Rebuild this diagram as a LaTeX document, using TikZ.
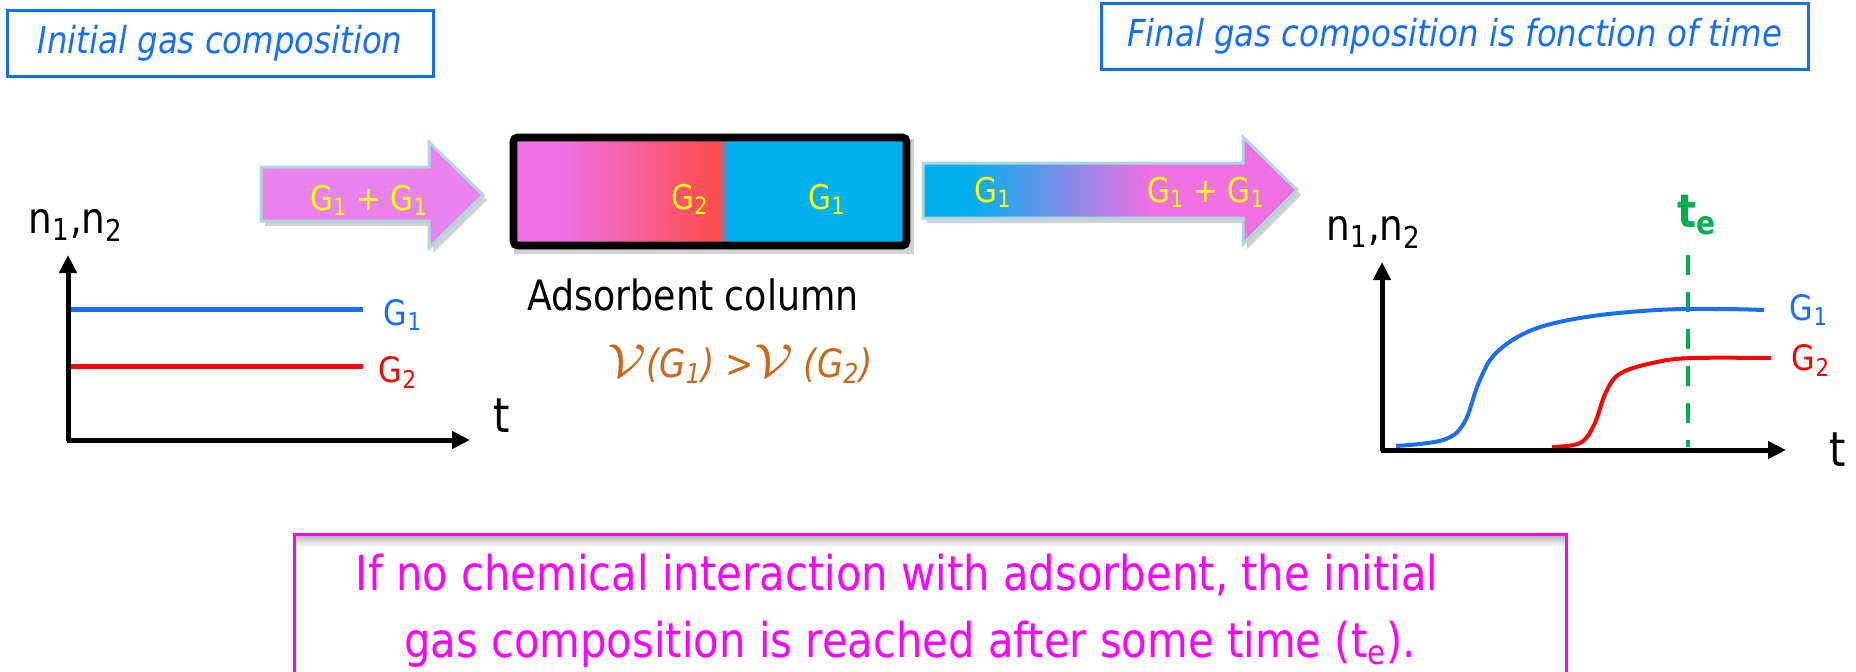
\documentclass[tikz,border=0pt]{standalone}
\usepackage{fontspec}
\setmainfont{DejaVu Sans}[FakeStretch=0.87]
\usetikzlibrary{arrows.meta}
\definecolor{titleblue}{RGB}{20,110,250}
\definecolor{lineblue}{RGB}{25,110,245}
\definecolor{colpink}{RGB}{238,112,226}
\definecolor{arrpink}{RGB}{232,130,236}
\definecolor{colred}{RGB}{255,75,75}
\definecolor{colblue}{RGB}{0,176,240}
\definecolor{arroutline}{RGB}{175,215,222}
\definecolor{gasyellow}{RGB}{255,255,0}
\definecolor{tegreen}{RGB}{0,176,80}
\definecolor{vorange}{RGB}{200,105,25}
\definecolor{notemag}{RGB}{255,0,255}
\newcommand{\scriptvee}{\scalebox{1.35}[1.15]{$\mathcal{V}$}}
\begin{document}
\begin{tikzpicture}[x=0.5pt,y=-0.5pt,
  titlebox/.style={draw=titleblue, line width=1.5pt, text=titleblue,
    font=\fontsize{18.6}{21}\selectfont\itshape, inner sep=0pt, minimum height=33pt},
  gastext/.style={text=gasyellow, font=\fontsize{17}{20}\selectfont, anchor=base, inner sep=0pt},
  axisline/.style={line width=2.5pt, -{Triangle[length=9pt,width=8.5pt]}},
  axlabel/.style={font=\fontsize{21.5}{24}\selectfont, anchor=base, inner sep=0pt},
  tlabel/.style={font=\fontsize{24}{26}\selectfont, anchor=base, inner sep=0pt},
  glabel/.style={font=\fontsize{17.5}{20}\selectfont, anchor=base, inner sep=0pt},
  notetext/.style={text=notemag, font=\fontsize{24}{28}\selectfont, anchor=base, inner sep=0pt},
  bigarrow/.style={draw=arroutline, line width=1.5pt, line join=miter},
  shadowfill/.style={fill=black, opacity=0.18, xshift=2pt, yshift=-2.5pt}
]
\useasboundingbox (0,0) rectangle (1856,671);
\fill[white] (0,0) rectangle (1856,671);

% title boxes
\node[titlebox, minimum width=213pt] (init) at (220,43) {Initial gas composition};
\node[titlebox, minimum width=353.5pt] (final) at (1454.5,36) {Final gas composition is fonction of time};

% left arrow
\fill[shadowfill] (261,167) -- (429,167) -- (429,142) -- (483,195) -- (429,248) -- (429,221) -- (261,221) -- cycle;
\filldraw[bigarrow, fill=arrpink] (261,167) -- (429,167) -- (429,142) -- (483,195) -- (429,248) -- (429,221) -- (261,221) -- cycle;
\node[gastext] (inmix) at (369,210) {G\textsubscript{1} + G\textsubscript{1}};

% adsorbent column
\fill[shadowfill] (510,134) rectangle (910,249);
\fill[colpink] (514,139) rectangle (564,245);
\shade[left color=colpink, right color=colred] (564,139) rectangle (719,245);
\shade[left color=colred, right color=colblue] (719,139) rectangle (728,245);
\fill[colblue] (728,139) rectangle (906,245);
\draw[line width=3.8pt, rounded corners=2pt] (513.5,137.5) rectangle (906.5,245.5);
\node[gastext] (colg2) at (690,209) {G\textsubscript{2}};
\node[gastext] (colg1) at (827,209) {G\textsubscript{1}};
\node[font=\fontsize{20.9}{24}\selectfont, anchor=base, inner sep=0pt] (adslabel) at (693,310) {Adsorbent column};
\node[text=vorange, font=\fontsize{19.5}{22}\selectfont\itshape, anchor=base, inner sep=0pt] (speed) at (740,377)
  {\scriptvee(G\textsubscript{1}) >\scriptvee\ (G\textsubscript{2})};

% right arrow
\fill[shadowfill] (923,163) -- (1243,163) -- (1243,137) -- (1297,190) -- (1243,244) -- (1243,218) -- (923,218) -- cycle;
\begin{scope}
\clip (923,163) -- (1243,163) -- (1243,137) -- (1297,190) -- (1243,244) -- (1243,218) -- (923,218) -- cycle;
\fill[colblue] (920,130) rectangle (968,250);
\shade[left color=colblue, right color=colpink] (967,130) rectangle (1150,250);
\fill[colpink] (1149,130) rectangle (1300,250);
\end{scope}
\draw[bigarrow] (923,163) -- (1243,163) -- (1243,137) -- (1297,190) -- (1243,244) -- (1243,218) -- (923,218) -- cycle;
\node[gastext] (outg1) at (993,202) {G\textsubscript{1}};
\node[gastext] (outmix) at (1206,202) {G\textsubscript{1} + G\textsubscript{1}};

% left graph
\coordinate (lo) at (68,440);
\coordinate (ly) at (68,255);
\coordinate (lx) at (470,440);
\draw[lineblue, line width=2.5pt] (68,309) -- (363,309);
\draw[red, line width=2.5pt] (68,366) -- (363,366);
\draw[axisline] (68,441.2) -- (ly);
\draw[axisline] (66.8,440) -- (lx);
\node[axlabel] (ln) at (76,233) {n\textsubscript{1},n\textsubscript{2}};
\node[tlabel] (lt) at (502,432) {t};
\node[glabel, text=lineblue] (lg1) at (403,325) {G\textsubscript{1}};
\node[glabel, text=red] (lg2) at (398,382) {G\textsubscript{2}};

% right graph
\coordinate (ro) at (1382,450);
\coordinate (ry) at (1382,262);
\coordinate (rx) at (1786,450);
\draw[tegreen, line width=2.2pt, dash pattern=on 10pt off 8.5pt] (1688,255) -- (1688,447);
\draw[lineblue, line width=2pt] plot[smooth, tension=0.6] coordinates
  {(1396,446) (1443,440) (1464,423) (1479,382) (1496,353) (1532,330) (1586,317) (1657,310) (1720,309) (1764,310)};
\draw[red, line width=2pt] plot[smooth, tension=0.6] coordinates
  {(1552,447) (1580,443) (1594,425) (1606,392) (1621,373) (1657,362) (1693,358) (1771,358)};
\draw[axisline] (1382,451.2) -- (ry);
\draw[axisline] (1380.8,450) -- (rx);
\node[axlabel] (rn) at (1374,240) {n\textsubscript{1},n\textsubscript{2}};
\node[tlabel] (rt) at (1838,466) {t};
\node[tlabel, text=tegreen, font=\fontsize{23}{26}\selectfont\bfseries] (te) at (1697,227) {t\textsubscript{e}};
\node[glabel, text=lineblue] (rg1) at (1809,320) {G\textsubscript{1}};
\node[glabel, text=red] (rg2) at (1811,370) {G\textsubscript{2}};

% bottom note
\shade[top color=black!30, bottom color=white] (295,535) rectangle (1565,547);
\draw[notemag, line width=1.5pt] (294,675) -- (294,534) -- (1566,534) -- (1566,675);
\node[notetext] (note1) at (897,590) {If no chemical interaction with adsorbent, the initial};
\node[notetext] (note2) at (910,657) {gas composition is reached after some time (t\textsubscript{e}).};
\end{tikzpicture}
\end{document}
